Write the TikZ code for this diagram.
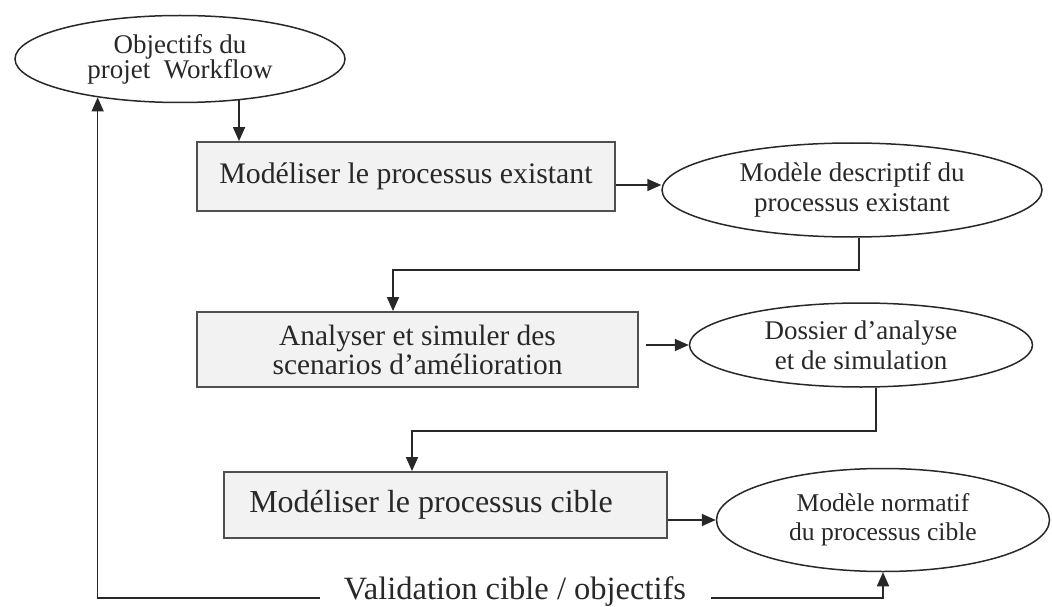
\documentclass[tikz,border=0pt]{standalone}
\usepackage{fontspec}
\setmainfont{Liberation Serif}
\usetikzlibrary{arrows.meta,shapes.geometric}

\definecolor{boxfill}{RGB}{242,242,242}
\definecolor{edge}{RGB}{80,80,80}
\definecolor{ink}{RGB}{40,40,40}

\newcommand\fsz[2]{\fontsize{#1}{#2}\selectfont}

\begin{document}
\begin{tikzpicture}[x=1pt,y=-1pt,
  procbox/.style={draw=edge, line width=1.8pt, fill=boxfill, rectangle,
    inner sep=0pt, text=ink, align=center},
  docell/.style={draw=ink, line width=1.5pt, ellipse, inner sep=0pt,
    text=ink, align=center},
  arr/.style={draw=ink, line width=1.6pt, -{Triangle[length=14pt,width=12pt]}},
  link/.style={draw=ink, line width=1.6pt}]

\useasboundingbox (0,0) rectangle (1052,607);

% objectives and deliverables (ellipses)
\node[docell, minimum width=330pt, minimum height=87pt, font=\fsz{27}{25}]
  (obj) at (180,59) {Objectifs du\\projet\ \ Workflow};
\node[docell, minimum width=380pt, minimum height=94pt, font=\fsz{27}{30}]
  (e2) at (852,190) {Modèle descriptif du\\processus existant};
\node[docell, minimum width=343pt, minimum height=84pt, font=\fsz{27}{30}]
  (e3) at (861,345) {Dossier d’analyse\\et de simulation};
\node[docell, minimum width=333pt, minimum height=103pt, font=\fsz{25.6}{29}]
  (e4) at (883,520) {Modèle normatif\\du processus cible};

% process steps (boxes)
\node[procbox, minimum width=418pt, minimum height=69pt, font=\fsz{29.8}{31}]
  (b1) at (406,176.5) {Modéliser le processus existant};
\node[procbox, minimum width=441pt, minimum height=75pt, font=\fsz{29.4}{29}]
  (b2) at (417.5,349.5) {Analyser et simuler des\\scenarios d’amélioration};
\node[procbox, minimum width=443pt, minimum height=66pt, font=\fsz{32}{33}]
  (b3) at (445.5,505) {Modéliser le processus cible\hspace*{29pt}};

% feedback label
\node[text=ink, inner sep=0pt, font=\fsz{32.5}{34}] (val) at (515,592)
  {Validation cible / objectifs};

% bend points
\coordinate (k1) at (393,270);
\coordinate (k2) at (412,431);
\coordinate (a1) at ([yshift=5pt]e2.west);
\coordinate (vl) at (320,598);
\coordinate (vr) at (711,598);

% flow
\draw[arr] (obj.-35) -- (obj.-35 |- b1.north);
\draw[arr] (b1.east |- a1) -- (a1);
\draw[arr] ([xshift=7pt]e2.south) |- (k1) -- (k1 |- b2.north);
\draw[arr] ([xshift=7pt]b2.east |- e3.west) -- (e3.west);
\draw[arr] ([xshift=15pt]e3.south) |- (k2) -- (k2 |- b3.north);
\draw[arr] (b3.east |- e4.west) -- (e4.west);

% validation loop
\draw[arr] (vl) -| (obj.205);
\draw[arr] (vr) -| (e4.south);
\end{tikzpicture}
\end{document}
